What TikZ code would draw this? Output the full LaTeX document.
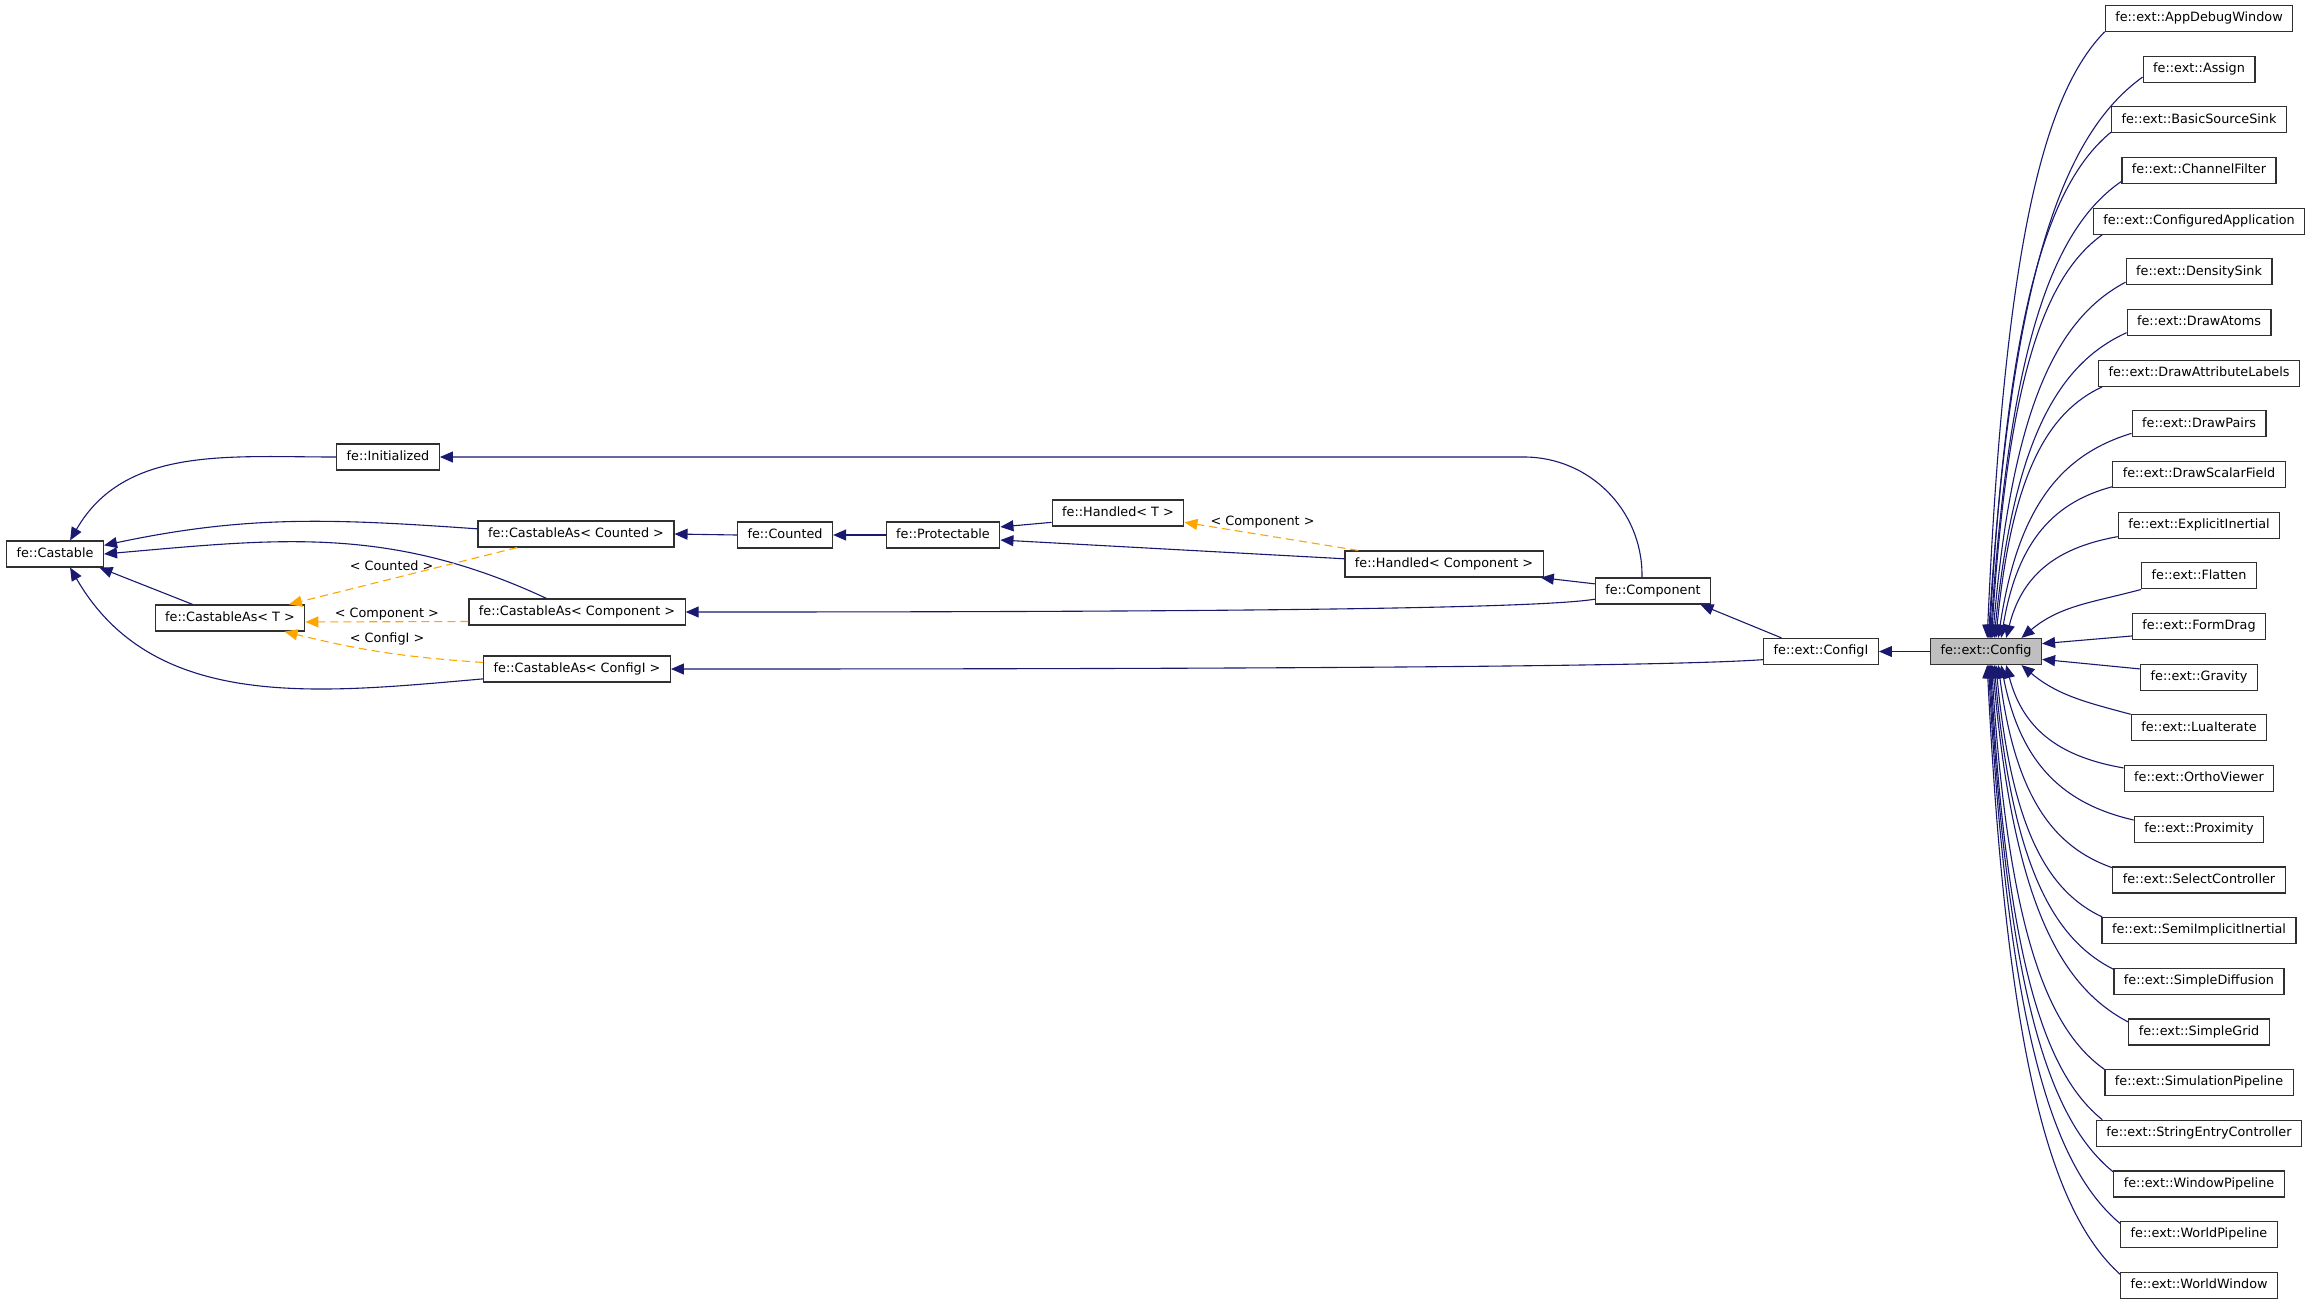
\documentclass[tikz,border=0pt]{standalone}
\usepackage{fontspec}
\setmainfont{DejaVu Sans}
\usetikzlibrary{arrows.meta,positioning,calc}
\definecolor{edgeblue}{RGB}{25,25,112}
\definecolor{tmplorange}{RGB}{255,165,0}
\definecolor{boxline}{RGB}{48,48,48}
\definecolor{curgray}{RGB}{191,191,191}
\tikzset{
  cls/.style={rectangle,draw=boxline,line width=1.2pt,fill=white,minimum height=26pt,
    inner xsep=10pt,inner ysep=0pt,text height=9.5pt,text depth=2.8pt,
    font=\fontsize{12.8}{15}\selectfont},
  curcls/.style={cls,fill=curgray},
  inh/.style={-{Triangle[length=13pt,width=11pt]},draw=edgeblue,line width=1.1pt},
  tmpl/.style={inh,draw=tmplorange,dash pattern=on 8pt off 5pt},
  elbl/.style={inner sep=1pt,text height=9.5pt,text depth=2.8pt,font=\fontsize{12.8}{15}\selectfont},
  fan/.style={to path={.. controls ($(\tikztostart)!.45!(\tikztotarget |- \tikztostart)!.1!(\tikztotarget)$)
    and ($(\tikztotarget)!.6!(\tikztotarget |- \tikztostart)!.15!(\tikztostart)$) .. (\tikztotarget) \tikztonodes}}
}

\begin{document}
\begin{tikzpicture}[x=1pt,y=1pt,node distance=23.47pt]
  \fill[white] (0,0) rectangle (2312,-1304);
  \useasboundingbox (0,0) rectangle (2312,-1304);

  %% base classes
  \node[cls] (cast) at (55,-554) {fe::Castable};
  \node[cls] (init) at (388,-457) {fe::Initialized};
  \node[cls] (cacnt) at (576,-534) {fe::CastableAs< Counted >};
  \node[cls] (cat) at (230,-618) {fe::CastableAs< T >};
  \node[cls] (cacmp) at (577,-612) {fe::CastableAs< Component >};
  \node[cls] (cacfg) at (577,-669) {fe::CastableAs< ConfigI >};
  \node[cls] (cnt) at (785,-535) {fe::Counted};
  \node[cls] (prot) at (943,-535) {fe::Protectable};
  \node[cls] (hdt) at (1118,-513) {fe::Handled< T >};
  \node[cls] (hdc) at (1444,-564) {fe::Handled< Component >};
  \node[cls] (comp) at (1653,-591) {fe::Component};
  \node[cls] (cfgi) at (1821,-651.5) {fe::ext::ConfigI};
  \node[curcls] (cfg) at (1986,-651.5) {fe::ext::Config};

  %% derived classes
  \node[cls] (adw) at (2199,-18.5) {fe::ext::AppDebugWindow};
  \node[cls,below=of adw] (asg) {fe::ext::Assign};
  \node[cls,below=of asg] (bss) {fe::ext::BasicSourceSink};
  \node[cls,below=of bss] (chf) {fe::ext::ChannelFilter};
  \node[cls,below=of chf] (cfa) {fe::ext::ConfiguredApplication};
  \node[cls,below=of cfa] (dns) {fe::ext::DensitySink};
  \node[cls,below=of dns] (dat) {fe::ext::DrawAtoms};
  \node[cls,below=of dat] (dal) {fe::ext::DrawAttributeLabels};
  \node[cls,below=of dal] (dpr) {fe::ext::DrawPairs};
  \node[cls,below=of dpr] (dsf) {fe::ext::DrawScalarField};
  \node[cls,below=of dsf] (exi) {fe::ext::ExplicitInertial};
  \node[cls,below=of exi] (flt) {fe::ext::Flatten};
  \node[cls,below=of flt] (fdg) {fe::ext::FormDrag};
  \node[cls,below=of fdg] (grv) {fe::ext::Gravity};
  \node[cls,below=of grv] (lua) {fe::ext::LuaIterate};
  \node[cls,below=of lua] (orv) {fe::ext::OrthoViewer};
  \node[cls,below=of orv] (prx) {fe::ext::Proximity};
  \node[cls,below=of prx] (slc) {fe::ext::SelectController};
  \node[cls,below=of slc] (sii) {fe::ext::SemiImplicitInertial};
  \node[cls,below=of sii] (sdf) {fe::ext::SimpleDiffusion};
  \node[cls,below=of sdf] (sgr) {fe::ext::SimpleGrid};
  \node[cls,below=of sgr] (smp) {fe::ext::SimulationPipeline};
  \node[cls,below=of smp] (sec) {fe::ext::StringEntryController};
  \node[cls,below=of sec] (wpl) {fe::ext::WindowPipeline};
  \node[cls,below=of wpl] (wdp) {fe::ext::WorldPipeline};
  \node[cls,below=of wdp] (wwn) {fe::ext::WorldWindow};

  %% inheritance, left part
  \draw[inh] (init.west) to[out=180,in=60] (cast.42);
  \draw[inh] (cacnt.177) to[out=176,in=12] (cast.10);
  \draw[inh] (cacmp.156) to[out=155,in=5] (cast.east);
  \draw[inh] (cat.160) -- (cast.-17);
  \draw[inh] (cacfg.186) to[out=185,in=-60] (cast.-42);
  \draw[inh] (cnt.west) -- (cacnt.east);
  \draw[inh] (prot.west) -- (cnt.east);
  \draw[inh] (hdt.188) -- (prot.8);
  \draw[inh] (hdc.177) -- (prot.-5);
  \draw[inh] (comp.173) -- (hdc.-8);
  \draw[inh,rounded corners=118pt] (comp.129) |- (init.east);
  \draw[inh] (comp.188) .. controls +(-60,-10) and +(500,0) .. (cacmp.east);
  \draw[inh] (cfgi.161) -- (comp.-16);
  \draw[inh] (cfgi.188) .. controls +(-100,-7) and +(600,0) .. (cacfg.east);
  \draw[inh] (cfg.west) -- (cfgi.east);

  %% template instances
  \draw[tmpl] (cacnt.193) -- node[elbl,pos=.55,above=4pt] {< Counted >} (cat.13);
  \draw[tmpl] (cacmp.185) -- node[elbl,above] {< Component >} (cat.-3);
  \draw[tmpl] (cacfg.176) to[bend left=5] node[elbl,above=5pt,xshift=4pt] {< ConfigI >} (cat.-14);
  \draw[tmpl] (hdc.171) -- node[elbl,pos=.55,above=5pt] {< Component >} (hdt.-8);

  %% inheritance, right fan
  \draw[inh] (adw.188) to[fan] (cfg.85);
  \draw[inh] (asg.188) to[fan] (cfg.80);
  \draw[inh] (bss.188) to[fan] (cfg.76);
  \draw[inh] (chf.188) to[fan] (cfg.72);
  \draw[inh] (cfa.188) to[fan] (cfg.68);
  \draw[inh] (dns.188) to[fan] (cfg.64);
  \draw[inh] (dat.188) to[fan] (cfg.59);
  \draw[inh] (dal.188) to[fan] (cfg.54);
  \draw[inh] (dpr.188) to[fan] (cfg.48);
  \draw[inh] (dsf.188) to[fan] (cfg.42);
  \draw[inh] (exi.188) to[fan] (cfg.34);
  \draw[inh] (flt.south west) to[out=195,in=40] (cfg.21);
  \draw[inh] (fdg.188) -- (cfg.8);
  \draw[inh] (grv.172) -- (cfg.-8);
  \draw[inh] (lua.north west) to[out=165,in=-40] (cfg.-21);
  \draw[inh] (orv.172) to[fan] (cfg.-34);
  \draw[inh] (prx.172) to[fan] (cfg.-42);
  \draw[inh] (slc.172) to[fan] (cfg.-48);
  \draw[inh] (sii.172) to[fan] (cfg.-54);
  \draw[inh] (sdf.172) to[fan] (cfg.-59);
  \draw[inh] (sgr.172) to[fan] (cfg.-64);
  \draw[inh] (smp.172) to[fan] (cfg.-68);
  \draw[inh] (sec.172) to[fan] (cfg.-72);
  \draw[inh] (wpl.172) to[fan] (cfg.-76);
  \draw[inh] (wdp.172) to[fan] (cfg.-80);
  \draw[inh] (wwn.172) to[fan] (cfg.-85);
\end{tikzpicture}
\end{document}
